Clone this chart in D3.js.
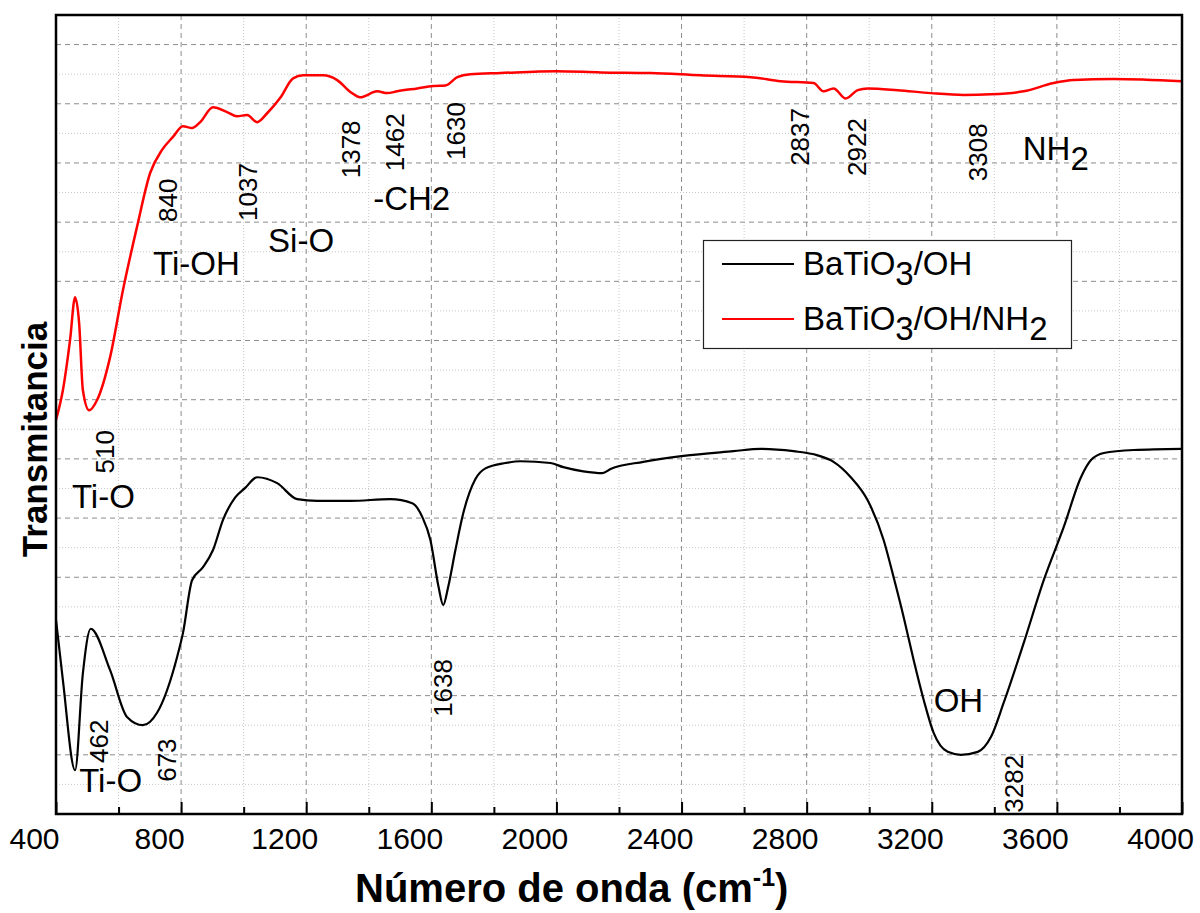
<html>
<head>
<title>FTIR BaTiO3</title>
<script src="https://cdn.jsdelivr.net/npm/d3@7/dist/d3.min.js"></script>
<style>
    body { margin: 0; background: #fff; }
    text { font-family: "Liberation Sans", Arial, sans-serif; fill: #000; }
</style>
</head>
<body>
<svg id="chart"></svg>
<script>
const WIDTH = 1200
const HEIGHT = 913
const MARGIN = { left: 56, top: 15, right: 18, bottom: 99 }

// BaTiO3/OH (black curve)
const ohWave = [400, 422, 461, 486, 511, 573, 627, 678, 723, 787, 806, 835, 870, 902, 934, 973, 1005, 1043, 1107, 1171,
    1235, 1341, 1469, 1539, 1571, 1597, 1623, 1638, 1654, 1677, 1702, 1741, 1773, 1837, 1885, 1981, 2022, 2086, 2147, 2173,
    2278, 2406, 2566, 2653, 2758, 2835, 2886, 2941, 2995, 3046, 3078, 3110, 3142, 3174, 3206, 3251, 3293, 3347, 3389, 3430,
    3494, 3558, 3622, 3677, 3709, 3750, 3846, 4000]
const ohT = [3.28, 2.26, 0.74, 2.38, 3.13, 2.43, 1.64, 1.50, 1.71, 2.65, 3.06, 3.95, 4.17, 4.46, 4.97, 5.35, 5.51, 5.69, 5.59, 5.32,
    5.29, 5.29, 5.32, 5.25, 5.02, 4.63, 3.84, 3.53, 3.84, 4.46, 5.08, 5.66, 5.84, 5.93, 5.96, 5.93, 5.86, 5.79, 5.76, 5.83,
    5.95, 6.05, 6.13, 6.17, 6.13, 6.06, 5.95, 5.69, 5.30, 4.63, 4.00, 3.33, 2.60, 1.93, 1.37, 1.05, 1.00, 1.05, 1.30, 1.88,
    2.89, 3.95, 4.85, 5.69, 5.98, 6.10, 6.15, 6.17]

// BaTiO3/OH/NH2 (red curve)
const nhWave = [400, 422, 445, 461, 474, 486, 506, 531, 573, 614, 659, 701, 739, 774, 806, 835, 861, 902, 947, 979,
    1011, 1043, 1075, 1117, 1158, 1190, 1254, 1299, 1341, 1373, 1427, 1459, 1491, 1555, 1606, 1645, 1683, 1725, 1821, 2000,
    2141, 2301, 2461, 2621, 2717, 2822, 2854, 2886, 2925, 2963, 2995, 3091, 3197, 3302, 3389, 3494, 3590, 3654, 3782, 4000]
const nhT = [6.66, 7.16, 8.01, 8.73, 8.29, 7.16, 6.82, 6.99, 7.72, 8.85, 9.92, 10.83, 11.22, 11.44, 11.62, 11.59, 11.69, 11.94, 11.86, 11.79,
    11.81, 11.69, 11.84, 12.10, 12.43, 12.48, 12.48, 12.40, 12.20, 12.11, 12.21, 12.18, 12.21, 12.26, 12.30, 12.31, 12.45, 12.50, 12.52, 12.55,
    12.53, 12.52, 12.48, 12.45, 12.38, 12.35, 12.21, 12.26, 12.09, 12.23, 12.26, 12.23, 12.18, 12.15, 12.16, 12.21, 12.35, 12.40, 12.42, 12.38]

const xTicks = [400, 800, 1200, 1600, 2000, 2400, 2800, 3200, 3600, 4000]
const xMinorTicks = [600, 1000, 1400, 1800, 2200, 2600, 3000, 3400, 3800]
const yGrid = [1, 2, 3, 4, 5, 6, 7, 8, 9, 10, 11, 12, 13]
const yMinorGrid = [0.5, 1.5, 2.5, 3.5, 4.5, 5.5, 6.5, 7.5, 8.5, 9.5, 10.5, 11.5, 12.5]

// rotated peak numbers: text, wavenumber, transmittance (label centre)
const peakText = ["510", "462", "673", "1638", "840", "1037", "1378", "1462", "1630", "2837", "2922", "3308", "3282"]
const peakWave = [557, 536, 755, 1638, 757, 1014, 1344, 1485, 1680, 2778, 2960, 3347, 3462]
const peakT = [6.12, 1.23, 0.91, 2.13, 10.37, 10.51, 11.23, 11.35, 11.54, 11.44, 11.27, 11.18, 0.51]

// group labels, "_" marks a subscript digit
const groupText = ["Ti-O", "Ti-O", "Ti-OH", "Si-O", "-CH2", "OH", "NH_2"]
const groupWave = [451, 474, 710, 1078, 1414, 3206, 3491]
const groupT = [5.17, 0.37, 9.11, 9.49, 10.20, 1.72, 11.05]

const seriesNames = ["BaTiO_3/OH", "BaTiO_3/OH/NH_2"]
const seriesColors = ["#000000", "#ff0000"]

function addRich(sel, str, sub) {
    // splits "NH_2" into a normal part and a lowered digit
    let parts = str.split(/_(\d)/)
    parts.forEach((p, i) => {
        if (p === "") return
        let t = sel.append("tspan").text(p)
        if (i % 2 == 1) t.attr("dy", sub)
        else if (i > 0) t.attr("dy", -sub)
    })
}

function drawChart() {
    const svg = d3.select("#chart")
        .attr("width", WIDTH)
        .attr("height", HEIGHT)

    svg.append("rect").attr("width", WIDTH).attr("height", HEIGHT).attr("fill", "#fff")

    const xScale = d3.scaleLinear()
        .domain([400, 4000])
        .range([MARGIN.left, WIDTH - MARGIN.right])
    const yScale = d3.scaleLinear()
        .domain([0, 13.5])
        .range([HEIGHT - MARGIN.bottom, MARGIN.top])

    const top = MARGIN.top, bottom = HEIGHT - MARGIN.bottom

    // grid
    let grid = svg.append("g")
    grid.selectAll(".vminor").data(xMinorTicks).enter().append("line")
        .attr("x1", d => xScale(d)).attr("x2", d => xScale(d))
        .attr("y1", top).attr("y2", bottom)
        .attr("stroke", "#c8c8c8").attr("stroke-width", 1).attr("stroke-dasharray", "1,2")
    grid.selectAll(".hminor").data(yMinorGrid).enter().append("line")
        .attr("x1", MARGIN.left).attr("x2", WIDTH - MARGIN.right)
        .attr("y1", d => yScale(d)).attr("y2", d => yScale(d))
        .attr("stroke", "#c8c8c8").attr("stroke-width", 1).attr("stroke-dasharray", "1,2")
    grid.selectAll(".vmajor").data(xTicks.slice(1, -1)).enter().append("line")
        .attr("x1", d => xScale(d)).attr("x2", d => xScale(d))
        .attr("y1", top).attr("y2", bottom)
        .attr("stroke", "#8c8c8c").attr("stroke-width", 1).attr("stroke-dasharray", "5,4")
    grid.selectAll(".hmajor").data(yGrid).enter().append("line")
        .attr("x1", MARGIN.left).attr("x2", WIDTH - MARGIN.right)
        .attr("y1", d => yScale(d)).attr("y2", d => yScale(d))
        .attr("stroke", "#8c8c8c").attr("stroke-width", 1).attr("stroke-dasharray", "5,4")

    // curves
    const line = d3.line()
        .x(d => xScale(d[0]))
        .y(d => yScale(d[1]))
        .curve(d3.curveMonotoneX)

    svg.append("path")
        .datum(ohWave.map((w, i) => [w, ohT[i]]))
        .attr("fill", "none").attr("stroke", seriesColors[0]).attr("stroke-width", 2.2)
        .attr("stroke-linejoin", "round")
        .attr("d", line)
    svg.append("path")
        .datum(nhWave.map((w, i) => [w, nhT[i]]))
        .attr("fill", "none").attr("stroke", seriesColors[1]).attr("stroke-width", 2.5)
        .attr("stroke-linejoin", "round")
        .attr("d", line)

    // x axis, ticks pointing inward
    let xAxis = d3.axisBottom(xScale).tickValues(xTicks).tickSize(-12).tickFormat(d3.format("d"))
    let gx = svg.append("g")
        .attr("transform", `translate(0,${bottom})`)
        .call(xAxis)
    gx.select(".domain").remove()
    gx.selectAll(".tick line").attr("stroke", "#000").attr("stroke-width", 2)
    gx.selectAll(".tick text")
        .attr("font-size", 30).attr("font-family", "Liberation Sans, Arial, sans-serif")
        .attr("fill", "#000").attr("x", -22).attr("y", 35).attr("dy", 0)
    let xMinorAxis = d3.axisBottom(xScale).tickValues(xMinorTicks).tickSize(-7).tickFormat("")
    let gxm = svg.append("g")
        .attr("transform", `translate(0,${bottom})`)
        .call(xMinorAxis)
    gxm.select(".domain").remove()
    gxm.selectAll(".tick line").attr("stroke", "#000").attr("stroke-width", 2)

    // frame
    svg.append("rect")
        .attr("x", MARGIN.left).attr("y", top)
        .attr("width", WIDTH - MARGIN.right - MARGIN.left).attr("height", bottom - top)
        .attr("fill", "none").attr("stroke", "#000").attr("stroke-width", 2.5)

    // axis titles
    svg.append("text")
        .attr("transform", `translate(34,${(top + bottom) / 2 + 25}) rotate(-90)`)
        .attr("text-anchor", "middle").attr("dominant-baseline", "central")
        .attr("font-size", 35).attr("font-weight", "bold")
        .text("Transmitancia")
    let xt = svg.append("text")
        .attr("x", 355).attr("y", 902)
        .attr("font-size", 40).attr("font-weight", "bold")
    xt.append("tspan").text("Número de onda (cm")
    xt.append("tspan").attr("font-size", 25).attr("dy", -16).text("-1")
    xt.append("tspan").attr("dy", 16).text(")")

    // peak numbers
    svg.selectAll(".peak").data(peakText).enter().append("text")
        .attr("transform", (d, i) => `translate(${xScale(peakWave[i])},${yScale(peakT[i])}) rotate(-90)`)
        .attr("text-anchor", "middle").attr("dominant-baseline", "central")
        .attr("font-size", 26)
        .text(d => d)

    // group labels
    groupText.forEach((g, i) => {
        let t = svg.append("text")
            .attr("x", xScale(groupWave[i])).attr("y", yScale(groupT[i]))
            .attr("font-size", 33)
        addRich(t, g, 10)
    })

    // legend
    let lg = svg.append("g")
    lg.append("rect")
        .attr("x", 703.5).attr("y", 240.5).attr("width", 368).attr("height", 108)
        .attr("fill", "#fff").attr("stroke", "#222").attr("stroke-width", 1.2)
    seriesNames.forEach((s, i) => {
        let yy = 264 + i * 55
        lg.append("line")
            .attr("x1", 722).attr("x2", 794).attr("y1", yy).attr("y2", yy)
            .attr("stroke", seriesColors[i]).attr("stroke-width", 2.2)
        let t = lg.append("text")
            .attr("x", 803).attr("y", yy + 11)
            .attr("font-size", 33)
        addRich(t, s, 10)
    })
}

drawChart()
</script>
</body>
</html>
